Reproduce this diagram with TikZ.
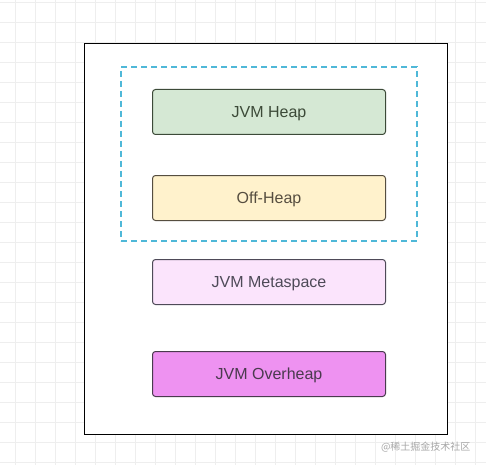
\documentclass[tikz,border=0pt]{standalone}
\usepackage{fontspec}
\setmainfont{Liberation Sans}
\newfontfamily\cjk{Noto Sans CJK SC}
\usetikzlibrary{positioning}
\definecolor{heapfill}{HTML}{D5E8D4}
\definecolor{heapline}{HTML}{3C4A38}
\definecolor{offfill}{HTML}{FFF2CC}
\definecolor{offline}{HTML}{564E40}
\definecolor{metafill}{HTML}{FBE4FC}
\definecolor{metaline}{HTML}{4E4A58}
\definecolor{overfill}{HTML}{EE92F1}
\definecolor{overline}{HTML}{4A3A4E}
\definecolor{gridgray}{HTML}{EEEEEE}
\definecolor{dashcyan}{HTML}{4FB8D8}

\begin{document}
\begin{tikzpicture}[
        x=1pt, y=-1pt,
        font=\fontsize{16}{19}\selectfont,
        box/.style={rectangle, rounded corners=3pt, draw, line width=1pt, text depth=0pt,
                    minimum width=233pt, minimum height=45pt, align=center},
    ]
        \useasboundingbox (0,0) rectangle (486,465);
        % background grid
        \foreach \gx in {15,35,...,475} \draw[gridgray, line width=0.8pt] (\gx,0) -- (\gx,465);
        \foreach \gy in {2,22,...,462} \draw[gridgray, line width=0.8pt] (0,\gy) -- (486,\gy);

        \node[draw, line width=1pt, fill=white, minimum width=363pt, minimum height=390pt,
              inner sep=0pt] (outer) at (265.5,239) {};
        \node[draw=dashcyan, dash pattern=on 6pt off 4pt, line width=1.3pt, minimum width=296pt,
              minimum height=174pt, inner sep=0pt] (group) at (269,154) {};

        \node[box, fill=heapfill, draw=heapline, text=heapline] (heap) at (269,112) {JVM Heap};
        \node[box, fill=offfill, draw=offline, text=offline, below=40pt of heap] (offheap) {Off-Heap};
        \node[box, fill=metafill, draw=metaline, text=metaline, below=38pt of offheap] (meta) {JVM Metaspace};
        \node[box, fill=overfill, draw=overline, text=overline, below=46pt of meta] (over) {JVM Overheap};

        \node[text=gray!70, font=\cjk\fontsize{10}{12}\selectfont, anchor=east] (mark) at (474,447) {@稀土掘金技术社区};
    \end{tikzpicture}
\end{document}
